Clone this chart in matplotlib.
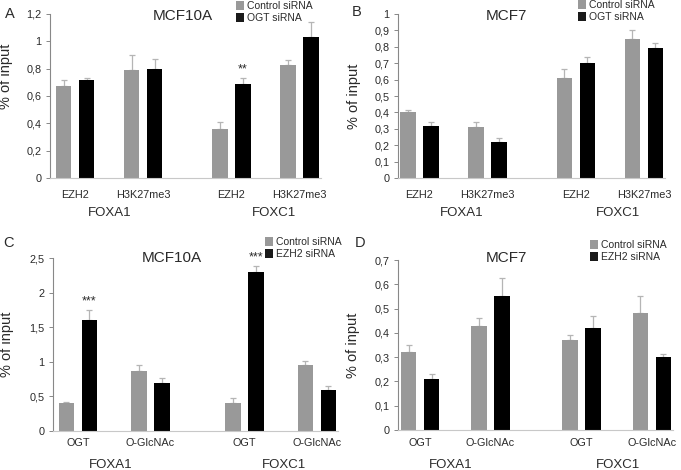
import matplotlib
matplotlib.use("Agg")
import matplotlib.pyplot as plt
from matplotlib.patches import Patch

plt.rcParams['font.family'] = ['Liberation Sans', 'DejaVu Sans']

W, H, DPI = 681, 470, 100

# ---------------- data ----------------
positions = [0, 1, 2.3, 3.3]

catsA = ["EZH2", "H3K27me3", "EZH2", "H3K27me3"]
groupsAB = ["FOXA1", "FOXC1"]
ctrlA = [0.67, 0.79, 0.36, 0.83]
ctrlA_err = [0.05, 0.11, 0.05, 0.03]
ogtA = [0.72, 0.80, 0.69, 1.03]
ogtA_err = [0.01, 0.07, 0.04, 0.11]
starsA = ["", "", "**", ""]

catsB = ["EZH2", "H3K27me3", "EZH2", "H3K27me3"]
ctrlB = [0.40, 0.31, 0.61, 0.85]
ctrlB_err = [0.015, 0.03, 0.055, 0.05]
ogtB = [0.32, 0.22, 0.70, 0.79]
ogtB_err = [0.02, 0.025, 0.04, 0.035]
starsB = ["", "", "", ""]

catsC = ["OGT", "O-GlcNAc", "OGT", "O-GlcNAc"]
groupsCD = ["FOXA1", "FOXC1"]
ctrlC = [0.41, 0.87, 0.41, 0.955]
ctrlC_err = [0.015, 0.085, 0.06, 0.05]
ezhC = [1.61, 0.69, 2.30, 0.59]
ezhC_err = [0.14, 0.07, 0.08, 0.06]
starsC = ["***", "", "***", ""]

catsD = ["OGT", "O-GlcNAc", "OGT", "O-GlcNAc"]
ctrlD = [0.32, 0.43, 0.37, 0.48]
ctrlD_err = [0.03, 0.03, 0.02, 0.07]
ezhD = [0.21, 0.55, 0.42, 0.30]
ezhD_err = [0.02, 0.075, 0.05, 0.012]
starsD = ["", "", "", ""]

# ---------------- style ----------------
GRAY = "#999999"
BLACK = "#000000"
ERRC = "#b5b5b5"
TXT = "#2a2a2a"

fig = plt.figure(figsize=(W / DPI, H / DPI), dpi=DPI)


def fmt(v):
    s = ("%.1f" % v).rstrip("0").rstrip(".")
    return s.replace(".", ",")


def panel(letter, title, cats, groups, ctrl, ctrl_err, trt, trt_err, stars,
          leg2, box, c1, unit, ymax, step, catpad, grp_off, title_xy,
          leg_xy, letter_xy, grp_y, ylab_y=0.5, ylab_size=10.5):
    l, r, t, b = box
    ax = fig.add_axes([l / W, 1 - b / H, (r - l) / W, (b - t) / H])
    w = 15.5 / unit
    off = 11.5 / unit
    xc = [p - off for p in positions]
    xt = [p + off for p in positions]
    ax.bar(xc, ctrl, width=w, color=GRAY, label="Control siRNA", zorder=2)
    ax.bar(xt, trt, width=w, color=BLACK, label=leg2, zorder=2)
    ax.errorbar(xc, ctrl, yerr=[[0] * len(ctrl), ctrl_err], fmt="none",
                ecolor=ERRC, elinewidth=0.9, capsize=2.2, capthick=0.9, zorder=1)
    ax.errorbar(xt, trt, yerr=[[0] * len(trt), trt_err], fmt="none",
                ecolor=ERRC, elinewidth=0.9, capsize=2.2, capthick=0.9, zorder=1)
    for x, v, e, s in zip(xt, trt, trt_err, stars):
        if s:
            ax.annotate(s, (x, v + e), xytext=(0, 2), textcoords="offset points",
                        ha="center", va="bottom", fontsize=9, color=TXT,
                        annotation_clip=False)
    ax.set_xlim((l - c1) / unit, (r - c1) / unit)
    ax.set_ylim(0, ymax)
    n = int(round(ymax / step))
    ticks = [i * step for i in range(n + 1)]
    ax.set_yticks(ticks)
    ax.set_yticklabels([fmt(v) for v in ticks])
    ax.set_xticks(positions)
    ax.set_xticklabels(cats)
    ax.tick_params(axis="x", length=0, pad=catpad, labelsize=7.8, labelcolor=TXT)
    ax.tick_params(axis="y", length=3, width=0.7, color="#888888", pad=3,
                   labelsize=7.8, labelcolor=TXT, direction="out")
    for sp in ("top", "right"):
        ax.spines[sp].set_visible(False)
    ax.spines["left"].set_color("#888888")
    ax.spines["left"].set_linewidth(0.8)
    ax.spines["bottom"].set_color("#c8c8c8")
    ax.spines["bottom"].set_linewidth(0.8)
    ax.spines["bottom"].set_bounds((l - c1) / unit, positions[-1] + off + w / 2 + 2 / unit)
    ax.set_ylabel("% of input", fontsize=ylab_size, color=TXT)
    ax.yaxis.set_label_coords(-0.135, ylab_y)
    # group labels
    gmid = [(positions[0] + positions[1]) / 2, (positions[2] + positions[3]) / 2]
    for gx, g, go in zip(gmid, groups, grp_off):
        fig.text((c1 + gx * unit + go) / W, 1 - grp_y / H, g, ha="center",
                 va="center", fontsize=9.5, color=TXT)
    fig.text(title_xy[0] / W, 1 - title_xy[1] / H, title, ha="center",
             va="center", fontsize=11, color=TXT)
    fig.text(letter_xy[0] / W, 1 - letter_xy[1] / H, letter, ha="left",
             va="center", fontsize=10.5, color=TXT)
    handles = [Patch(facecolor=GRAY, edgecolor="none"),
               Patch(facecolor="#1a1a1a", edgecolor="none")]
    fig.legend(handles, ["Control siRNA", leg2], loc="upper left",
               bbox_to_anchor=(leg_xy[0] / W, 1 - leg_xy[1] / H),
               frameon=False, fontsize=7.5, handlelength=0.75, handleheight=0.9,
               handletextpad=0.35, labelspacing=0.2, borderpad=0,
               borderaxespad=0, labelcolor=TXT)
    return ax


panel("A", "MCF10A", catsA, groupsAB, ctrlA, ctrlA_err, ogtA, ogtA_err, starsA,
      "OGT siRNA", (50, 325, 14, 178), 75, 68, 1.2, 0.2, 9, (1, 9),
      (183, 16), (236, 1), (5, 14), 213, ylab_y=0.62, ylab_size=10.5)
panel("B", "MCF7", catsB, groupsAB, ctrlB, ctrlB_err, ogtB, ogtB_err, starsB,
      "OGT siRNA", (398, 672, 14, 178), 419.5, 68, 1.0, 0.1, 9, (8, 8),
      (506, 16), (578, 0), (352, 12), 213)
panel("C", "MCF10A", catsC, groupsCD, ctrlC, ctrlC_err, ezhC, ezhC_err, starsC,
      "EZH2 siRNA", (53, 340, 258, 431), 78, 72.4, 2.5, 0.5, 5, (-4, 3),
      (172, 258), (265, 237), (3, 243), 465)
panel("D", "MCF7", catsD, groupsCD, ctrlD, ctrlD_err, ezhD, ezhD_err, starsD,
      "EZH2 siRNA", (398, 678, 260, 430), 420, 70.3, 0.7, 0.1, 6, (-4, 1),
      (506, 258), (590, 240), (355, 243), 465)

fig.savefig("out.png", dpi=DPI)
